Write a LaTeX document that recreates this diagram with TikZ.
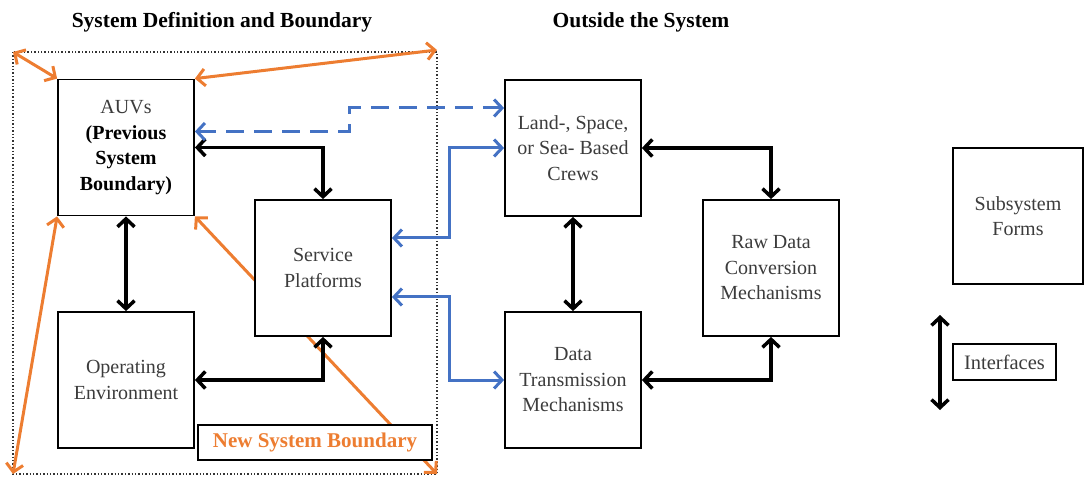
\documentclass[tikz,border=0pt]{standalone}
\usepackage{fontspec}
\setmainfont{Liberation Serif}
\usetikzlibrary{arrows.meta,backgrounds}

\definecolor{bndorange}{RGB}{237,125,49}
\definecolor{ifblue}{RGB}{68,114,196}
\definecolor{txtgray}{RGB}{60,60,60}

\begin{document}
\begin{tikzpicture}[x=1pt,y=-1pt,
	>={Straight Barb[length=8pt,width=17pt]},
	box/.style={draw, line width=1.8pt, fill=white, minimum width=136pt,
		minimum height=136pt, align=center, text=txtgray,
		font=\fontsize{20}{25.5}\selectfont},
	blk/.style={<->, line width=3.5pt, black},
	ifc/.style={<->, line width=3pt, ifblue},
	bnd/.style={<->, line width=3pt, bndorange},
	title/.style={font=\fontsize{21.5}{24}\selectfont\bfseries}]

	\useasboundingbox (0,0) rectangle (1084,478);

	% titles
	\node[title] (ttlin)  at (222,22) {System Definition and Boundary};
	\node[title] (ttlout) at (641,22) {Outside the System};

	% corners of the system boundary
	\coordinate (TL) at (13,52);
	\coordinate (TR) at (437,50);
	\coordinate (BL) at (13,474);
	\coordinate (BR) at (437,474);

	% system boxes
	\node[box] (auv) at (126,147.5)
		{AUVs\\ \textcolor{black}{\textbf{(Previous}}\\
		\textcolor{black}{\textbf{System}}\\ \textcolor{black}{\textbf{Boundary)}}};
	\node[box] (env) at (126,380) {Operating\\ Environment};
	\node[box] (svc) at (323,268) {Service\\ Platforms};
	\node[draw, line width=1.8pt, fill=white, minimum width=234pt, minimum height=35pt,
		inner xsep=2pt, text=bndorange, font=\fontsize{21}{22}\selectfont\bfseries]
		(nsb) at (315,442.5) {New System Boundary};

	% outside boxes
	\node[box] (crew)  at (573,148) {Land-, Space,\\ or Sea- Based\\ Crews};
	\node[box] (trans) at (573,380) {Data\\ Transmission\\ Mechanisms};
	\node[box] (raw)   at (771,268) {Raw Data\\ Conversion\\ Mechanisms};

	% legend
	\node[box, minimum width=130pt] (forms) at (1018,216) {Subsystem\\ Forms};
	\node[draw, line width=1.8pt, minimum width=103pt, minimum height=36pt, text=txtgray,
		font=\fontsize{20.5}{22}\selectfont] (iface) at (1004.5,362) {Interfaces};
	\coordinate (itop) at (940,315);
	\coordinate (ibot) at (940,410);

	% boundary and new boundary arrows (behind the boxes)
	\begin{scope}[on background layer]
		\draw[dotted, line width=1.4pt, black!80] (TL) rectangle (BR);
		\draw[bnd] (TL) -- (auv.north west);
		\draw[bnd] (TR) -- (auv.north east);
		\draw[bnd] (BL) -- (auv.south west);
		\draw[bnd] (BR) -- (auv.south east);
	\end{scope}

	% interfaces inside the system
	\draw[blk] (auv.east) -| (svc.north);
	\draw[blk] (auv.south) -- (env.north);
	\draw[blk] (env.east) -| (svc.south);

	% interfaces outside the system
	\draw[blk] (crew.east) -| (raw.north);
	\draw[blk] (crew.south) -- (trans.north);
	\draw[blk] (trans.east) -| (raw.south);

	% interfaces across the boundary
	\coordinate (jog) at (349,108);
	\draw[ifc, dash pattern=on 18pt off 10pt]
		([yshift=16pt]auv.east) -| (jog) -- ([yshift=40pt]crew.west);
	\draw[ifc] ([yshift=30pt]svc.east) -- ++(58,0) |- (crew.west);
	\draw[ifc] ([yshift=-29pt]svc.east) -- ++(58,0) |- (trans.west);

	% legend arrow
	\draw[blk] (itop) -- (ibot);

\end{tikzpicture}
\end{document}
